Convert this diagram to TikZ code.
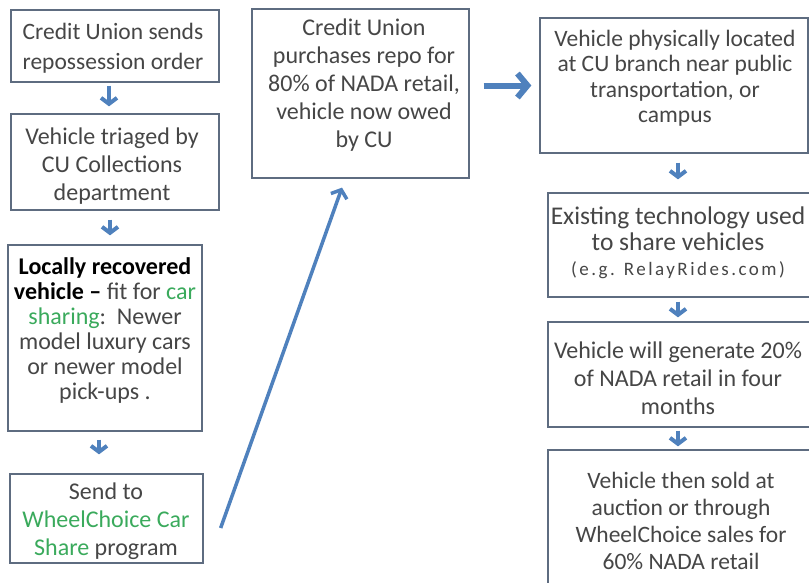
\documentclass[tikz,border=0pt]{standalone}
\usepackage{fontspec}
\setmainfont{Carlito}
\newfontfamily\spacedfont{Carlito}[LetterSpace=13]
\usetikzlibrary{arrows.meta,calc}

\definecolor{boxline}{HTML}{5E6C80}
\definecolor{txt}{HTML}{464646}
\definecolor{flow}{HTML}{4F81BD}
\definecolor{share}{HTML}{3AAA5C}

\begin{document}
\begin{tikzpicture}[x=1pt,y=-1pt,
  frame/.style={draw=boxline, line width=1.3pt, inner sep=0pt, fill=white},
  label/.style={text=txt, align=center, inner sep=0pt, font=\fontsize{24}{28}\selectfont},
  downarrow/.style={draw=flow, line width=4pt, -{Straight Barb[length=6pt,width=16pt]}},
  bigarrow/.style={draw=flow, line width=6pt, -{Straight Barb[length=10pt,width=24pt]}},
  longarrow/.style={draw=flow, line width=3.5pt, -{Straight Barb[length=7pt,width=17pt]}}]

\useasboundingbox (0,0) rectangle (809,582);
\clip (0,0) rectangle (809,582);
\fill[white] (0,0) rectangle (809,582);

% left column
\node[frame, minimum width=208pt, minimum height=72pt] (A) at (115,46) {};
\node[label, font=\fontsize{23.5}{30}\selectfont] (tA) at (113,48) {Credit Union sends\\repossession order};

\node[frame, minimum width=208pt, minimum height=96pt] (B) at (115,162) {};
\node[label] (tB) at (112,166) {Vehicle triaged by\\CU Collections\\department};

\node[frame, minimum width=194pt, minimum height=186pt] (C) at (105,338) {};
\node[label, font=\fontsize{24}{25}\selectfont] (tC) at (105,331)
  {\textcolor{black}{\bfseries Locally recovered}\\
   \textcolor{black}{\bfseries vehicle –} fit for \textcolor{share}{car}\\
   \textcolor{share}{sharing}:\ \ Newer\\
   model luxury cars\\
   or newer model\\
   pick-ups .};

\node[frame, minimum width=193pt, minimum height=89pt] (D) at (106.5,518.5) {};
\node[label] (tD) at (106,521)
  {Send to\\\textcolor{share}{WheelChoice Car}\\\textcolor{share}{Share} program};

% middle column
\node[frame, minimum width=217pt, minimum height=169pt] (E) at (360.5,93.5) {};
\node[label] (tE) at (364,85)
  {Credit Union\\purchases repo for\\80\% of NADA retail,\\vehicle now owed\\by CU};

% right column
\node[frame, minimum width=268pt, minimum height=135pt] (F) at (674,85.5) {};
\node[label, font=\fontsize{23.5}{25.5}\selectfont] (tF) at (675,78)
  {Vehicle physically located\\at CU branch near public\\transportation, or\\campus};

\node[frame, minimum width=264pt, minimum height=104pt] (G) at (680,245) {};
\node[label, font=\fontsize{25.5}{25.5}\selectfont] (tG) at (678,243)
  {Existing technology used\\to share vehicles\\
   {\spacedfont\fontsize{19}{25.5}\selectfont (e.g. RelayRides.com)}};

\node[frame, minimum width=264pt, minimum height=105pt] (H) at (680,374.5) {};
\node[label] (tH) at (678,378)
  {Vehicle will generate 20\%\\of NADA retail in four\\months};

\node[frame, minimum width=264pt, minimum height=150pt] (I) at (680,525) {};
\node[label, font=\fontsize{23.5}{27}\selectfont] (tI) at (681,521)
  {Vehicle then sold at\\auction or through\\WheelChoice sales for\\60\% NADA retail};

% arrow columns
\coordinate (cAB) at (109,0);
\coordinate (cBC) at (110,0);
\coordinate (cCD) at (99,0);
\coordinate (cR) at (678,0);

% connectors
\draw[downarrow, shorten <=3pt, shorten >=7pt] (A.south -| cAB) -- (B.north -| cAB);
\draw[downarrow, shorten <=9pt, shorten >=9pt] (B.south -| cBC) -- (C.north -| cBC);
\draw[downarrow, shorten <=8pt, shorten >=19pt] (C.south -| cCD) -- (D.north -| cCD);
\draw[longarrow] ($(D.east)+(17,9.5)$) -- ($(E.south)+(-18.5,9)$);
\draw[bigarrow, shorten <=14pt, shorten >=8pt] (F.west -| E.east) -- (F.west);
\draw[downarrow, shorten <=9pt, shorten >=13pt] (F.south -| cR) -- (G.north -| cR);
\draw[downarrow, shorten <=4pt, shorten >=4pt] (G.south -| cR) -- (H.north -| cR);
\draw[downarrow, shorten <=3pt, shorten >=3pt] (H.south -| cR) -- (I.north -| cR);
\end{tikzpicture}
\end{document}
